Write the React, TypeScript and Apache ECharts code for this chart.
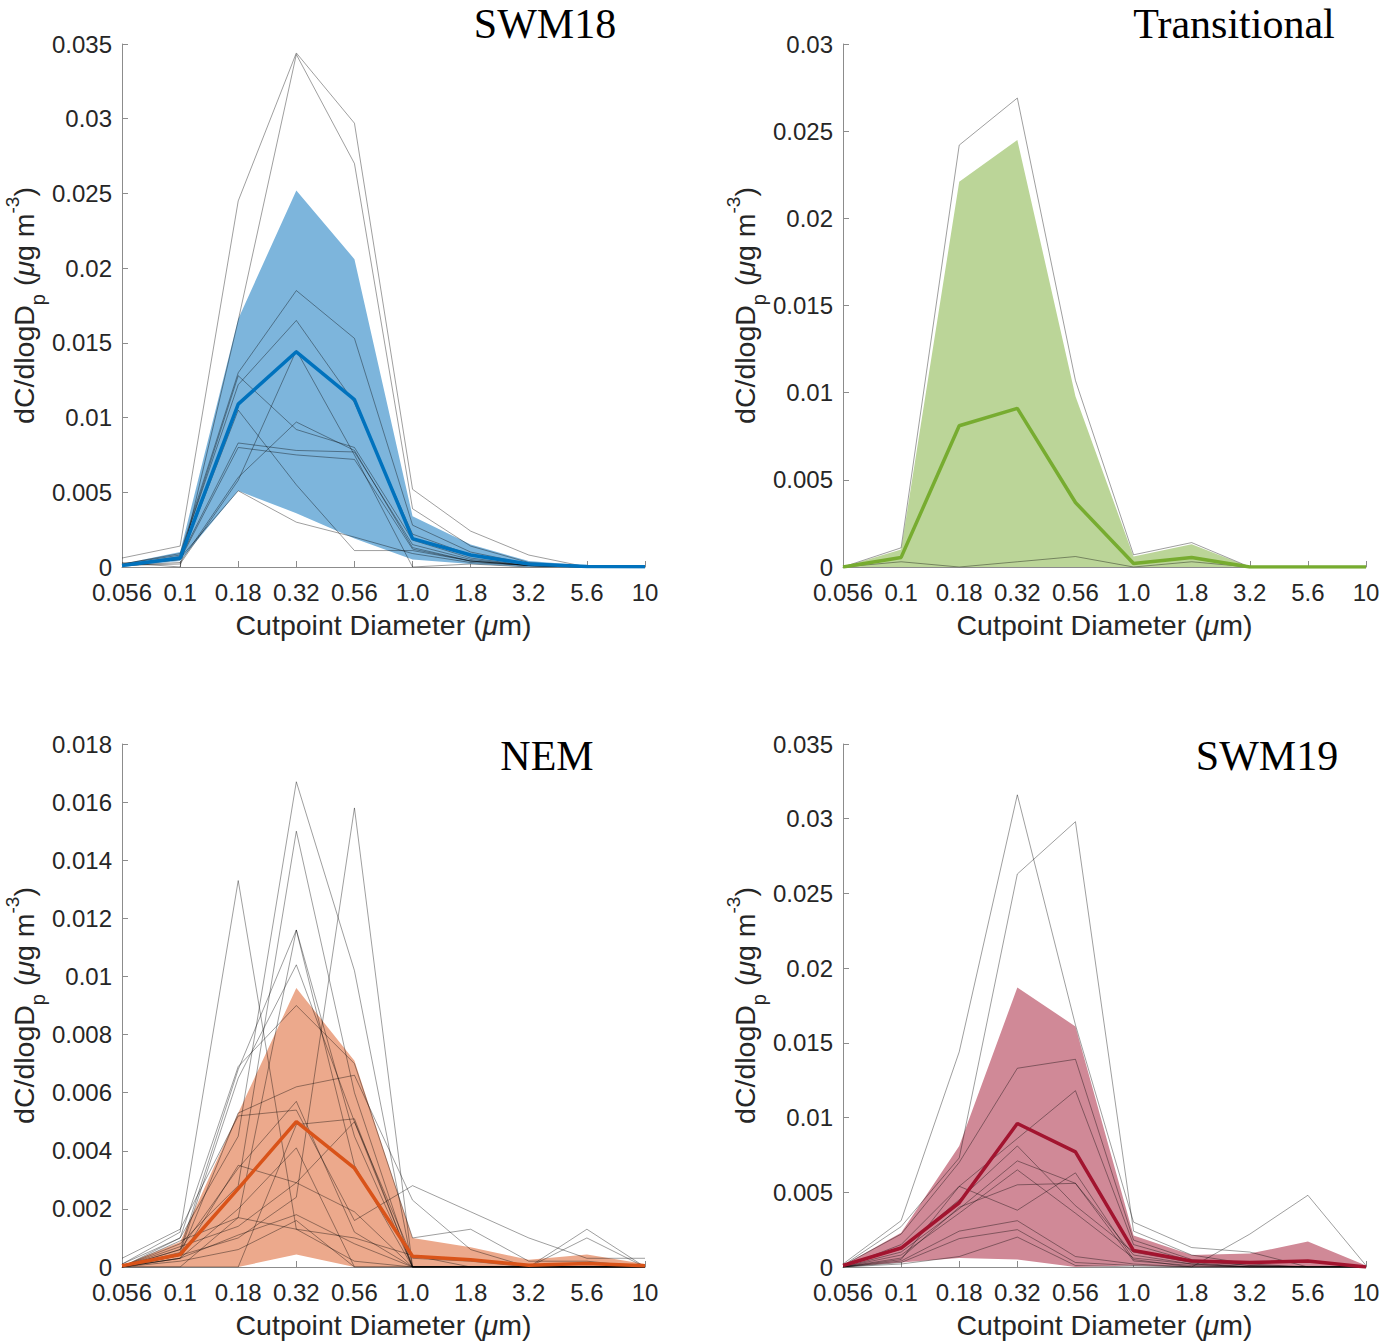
import React, { useEffect, useRef } from "react";
import * as echarts from "echarts";

// cutpoint diameters (µm), shared by all four panels
const diameters = ['0.056', '0.1', '0.18', '0.32', '0.56', '1.0', '1.8', '3.2', '5.6', '10'];

// SWM18
const swm18Mean = [0.0001, 0.0006, 0.0109, 0.0144, 0.0112, 0.0019, 0.0008, 0.0002, 0.00003, 0.00002];
const swm18Lower = [0, 0.0004, 0.0051, 0.0036, 0.0019, 0.0005, 0.0002, 0, 0, 0];
const swm18Upper = [0.0002, 0.001, 0.0166, 0.0252, 0.0206, 0.0034, 0.0015, 0.0004, 0.0001, 0.0001];
const swm18Samples = [
  [0.0006, 0.0014, 0.0245, 0.0344, 0.0297, 0.0052, 0.0024, 0.0008, 0, 0],
  [0.0003, 0, 0.0165, 0.0343, 0.027, 0.0039, 0.0014, 0.0003, 0, 0],
  [0.0002, 0.0009, 0.013, 0.0185, 0.0153, 0.0028, 0.001, 0.0002, 0, 0],
  [0.0002, 0.0008, 0.0122, 0.0165, 0.011, 0.0022, 0.0008, 0.0002, 0, 0],
  [0.0001, 0.0007, 0.0128, 0.0092, 0.008, 0.0018, 0.0006, 0.0001, 0, 0],
  [0.0001, 0.0005, 0.0105, 0.0055, 0.0011, 0.0011, 0.0004, 0.0001, 0, 0],
  [0.0001, 0.0006, 0.0083, 0.0078, 0.0077, 0.0015, 0.0005, 0.0001, 0, 0],
  [0.0001, 0.0005, 0.008, 0.0075, 0.0072, 0.0012, 0.0004, 0.0001, 0, 0],
  [0.0001, 0.0006, 0.0051, 0.003, 0.002, 0.0009, 0.0003, 0.0001, 0, 0],
  [0.0001, 0.0002, 0.0058, 0.0145, 0.0075, 0, 0.0002, 0, 0, 0],
  [0.0001, 0.0003, 0.006, 0.0097, 0.0078, 0.0013, 0.0004, 0.0001, 0, 0],
];

// Transitional
const transMean = [0, 0.00055, 0.0081, 0.0091, 0.0037, 0.0002, 0.00055, 0, 0, 0];
const transLower = [0, 0, 0, 0, 0, 0, 0, 0, 0, 0];
const transUpper = [0, 0.001, 0.0221, 0.0245, 0.0098, 0.0006, 0.0013, 0, 0, 0];
const transSamples = [
  [0, 0.0011, 0.0242, 0.0269, 0.0107, 0.0007, 0.0014, 0, 0, 0],
  [0, 0.0003, 0, 0.0003, 0.0006, 0, 0.0003, 0, 0, 0],
];

// NEM
const nemMean = [0.00004, 0.00043, 0.0027, 0.005, 0.0034, 0.00037, 0.00025, 0.00006, 0.00012, 0.00004];
const nemLower = [0, 0, 0, 0.00043, 0, 0, 0, 0, 0, 0];
const nemUpper = [0.00005, 0.00086, 0.0053, 0.0096, 0.0071, 0.001, 0.00068, 0.00025, 0.00043, 0.0001];
const nemSamples = [
  [0.0001, 0.001, 0.0045, 0.0167, 0.0102, 0, 0, 0, 0, 0],
  [0, 0.0008, 0.0028, 0.015, 0.006, 0, 0, 0, 0, 0],
  [0, 0.0004, 0.001, 0.0024, 0.0158, 0, 0, 0, 0, 0],
  [0.0001, 0.0012, 0.0133, 0.0013, 0.0002, 0, 0, 0, 0, 0],
  [0, 0.0006, 0.0068, 0.0116, 0.0045, 0, 0, 0, 0, 0],
  [0, 0.0009, 0.0017, 0.0116, 0.0035, 0, 0, 0, 0, 0],
  [0, 0.0005, 0.0065, 0.0104, 0.005, 0, 0, 0, 0, 0],
  [0, 0.001, 0.0069, 0.009, 0.007, 0.001, 0.0013, 0.0002, 0.0002, 0],
  [0.0003, 0.0013, 0.0052, 0.0054, 0.0016, 0.0028, 0.0019, 0.001, 0.0003, 0.0003],
  [0, 0.0004, 0.0053, 0.0062, 0.0066, 0.0023, 0.0006, 0, 0.0013, 0],
  [0, 0.0003, 0.0035, 0.0029, 0.005, 0.0003, 0.0002, 0, 0.001, 0],
  [0, 0.0006, 0.0034, 0.0057, 0.0012, 0, 0, 0, 0, 0],
  [0, 0, 0, 0.0049, 0.0051, 0, 0, 0, 0, 0],
  [0, 0.0003, 0.002, 0.0041, 0, 0, 0, 0, 0, 0],
  [0, 0.0007, 0.0014, 0.0029, 0.0019, 0, 0, 0, 0, 0],
  [0, 0.0003, 0.0011, 0.0018, 0.0008, 0, 0, 0, 0, 0],
  [0, 0.0002, 0.0006, 0.0016, 0, 0, 0, 0, 0, 0],
  [0, 0, 0.0017, 0.0013, 0.001, 0.0004, 0, 0, 0, 0],
];

// SWM19
const swm19Mean = [0.0001, 0.00127, 0.0043, 0.0096, 0.0077, 0.0011, 0.0004, 0.0003, 0.0004, 0];
const swm19Lower = [0, 0.0003, 0.0006, 0.0005, 0, 0.0001, 0, 0, 0, 0];
const swm19Upper = [0.0001, 0.0023, 0.0081, 0.0187, 0.0161, 0.0021, 0.0008, 0.0009, 0.0017, 0.0001];
const swm19Samples = [
  [0.0002, 0.0031, 0.0144, 0.0316, 0.0162, 0.003, 0.0013, 0.001, 0, 0],
  [0.0001, 0.0027, 0.0073, 0.0263, 0.0298, 0.0024, 0.0008, 0.0002, 0, 0],
  [0.0001, 0.0022, 0.007, 0.0133, 0.0139, 0.0018, 0.0005, 0.0001, 0, 0],
  [0, 0.0015, 0.0054, 0.0086, 0.0118, 0.0015, 0.0004, 0.0001, 0, 0],
  [0.0001, 0.0012, 0.0045, 0.0081, 0.0041, 0.001, 0.0003, 0, 0, 0],
  [0, 0.001, 0.0039, 0.0071, 0.0056, 0.0008, 0.0002, 0, 0, 0],
  [0, 0.0008, 0.0036, 0.0065, 0.0036, 0.0006, 0.0002, 0, 0, 0],
  [0, 0.0006, 0.004, 0.0055, 0.0056, 0.0004, 0.0001, 0, 0, 0],
  [0, 0.0005, 0.0054, 0.0038, 0.0063, 0.0005, 0, 0.0022, 0.0048, 0.0001],
  [0, 0.0004, 0.0024, 0.0031, 0.0007, 0.0002, 0, 0, 0, 0],
  [0, 0.0003, 0.0019, 0.0025, 0.0003, 0.0001, 0, 0, 0, 0],
  [0, 0.0002, 0.0007, 0.002, 0.0001, 0, 0, 0, 0, 0],
];

const panels = [
  { title: 'SWM18', max: 0.035, interval: 0.005, mean: swm18Mean, lower: swm18Lower, upper: swm18Upper, samples: swm18Samples,
    line: '#0072BD', fill: '#7DB5DC', left: 122, top: 44, titleX: 545, titleY: 24 },
  { title: 'Transitional', max: 0.03, interval: 0.005, mean: transMean, lower: transLower, upper: transUpper, samples: transSamples,
    line: '#77AC30', fill: '#BBD598', left: 843, top: 44, titleX: 1234, titleY: 24 },
  { title: 'NEM', max: 0.018, interval: 0.002, mean: nemMean, lower: nemLower, upper: nemUpper, samples: nemSamples,
    line: '#D95319', fill: '#ECA98C', left: 122, top: 744, titleX: 547, titleY: 756 },
  { title: 'SWM19', max: 0.035, interval: 0.005, mean: swm19Mean, lower: swm19Lower, upper: swm19Upper, samples: swm19Samples,
    line: '#A2142F', fill: '#D08997', left: 843, top: 744, titleX: 1267, titleY: 756 },
];

const SANS = '"Liberation Sans", Arial, Helvetica, sans-serif';
const SERIF = '"Liberation Serif", "Times New Roman", serif';
const TEXT = '#262626';
const AXIS = '#8c8c8c';

const nameRich = {
  sub: { fontSize: 20, height: 8, verticalAlign: 'bottom', color: TEXT, fontFamily: SANS },
  sup: { fontSize: 19, height: 12, verticalAlign: 'top', color: TEXT, fontFamily: SANS },
  mu: { fontSize: 28.5, fontStyle: 'italic', color: TEXT, fontFamily: SANS },
};

const App = () => {
  const chartContainer = useRef<HTMLDivElement>(null);

  useEffect(() => {
    if (!chartContainer.current) return;
    const chart = echarts.init(chartContainer.current, null, { renderer: 'svg' });

    const series: any[] = [];
    panels.forEach((p, i) => {
      // shaded band: invisible lower line + stacked difference filled
      series.push({
        type: 'line', xAxisIndex: i, yAxisIndex: i, stack: 'band' + i, silent: true,
        symbol: 'none', lineStyle: { opacity: 0 }, data: p.lower,
      });
      series.push({
        type: 'line', xAxisIndex: i, yAxisIndex: i, stack: 'band' + i, silent: true,
        symbol: 'none', lineStyle: { opacity: 0 }, areaStyle: { color: p.fill, opacity: 1 },
        data: p.upper.map((u, k) => u - p.lower[k]),
      });
      p.samples.forEach((s) => {
        series.push({
          type: 'line', xAxisIndex: i, yAxisIndex: i, silent: true, symbol: 'none',
          lineStyle: { color: 'rgba(0,0,0,0.38)', width: 1 }, data: s,
        });
      });
      series.push({
        type: 'line', xAxisIndex: i, yAxisIndex: i, silent: true, symbol: 'none',
        lineStyle: { color: p.line, width: 3.5 }, data: p.mean,
      });
    });

    const option: echarts.EChartsOption = {
      animation: false,
      backgroundColor: '#fff',
      grid: panels.map((p) => ({
        left: p.left, top: p.top, width: 523, height: 523,
        outerBoundsMode: 'none', containLabel: false,
      })) as any,
      xAxis: panels.map((p, i) => ({
        type: 'category',
        gridIndex: i,
        data: diameters,
        boundaryGap: false,
        axisLine: { show: true, lineStyle: { color: AXIS, width: 1 } },
        axisTick: { show: true, inside: true, length: 6, alignWithLabel: true, lineStyle: { color: AXIS } },
        axisLabel: { interval: 0, margin: 15, fontSize: 24, lineHeight: 20, color: TEXT, fontFamily: SANS },
        splitLine: { show: false },
        name: 'Cutpoint Diameter ({mu|μ}m)',
        nameLocation: 'middle',
        nameGap: 43,
        nameTextStyle: { fontSize: 28.5, lineHeight: 30, color: TEXT, fontFamily: SANS, rich: nameRich },
      })),
      yAxis: panels.map((p, i) => ({
        type: 'value',
        gridIndex: i,
        min: 0,
        max: p.max,
        interval: p.interval,
        axisLine: { show: true, lineStyle: { color: AXIS, width: 1 } },
        axisTick: { show: true, inside: true, length: 6, lineStyle: { color: AXIS } },
        axisLabel: { margin: 10, fontSize: 24, lineHeight: 20, color: TEXT, fontFamily: SANS },
        splitLine: { show: false },
        name: 'dC/dlogD{sub|p} ({mu|μ}g m{sup|-3})',
        nameLocation: 'middle',
        nameGap: 79,
        nameTextStyle: { fontSize: 28.5, lineHeight: 36, color: TEXT, fontFamily: SANS, rich: nameRich },
      })),
      graphic: panels.map((p) => ({
        type: 'text',
        x: p.titleX,
        y: p.titleY,
        style: {
          text: p.title,
          font: '42px ' + SERIF,
          lineHeight: 32,
          fill: '#000',
          align: 'center',
          verticalAlign: 'middle',
        },
      })),
      series,
    };

    chart.setOption(option);

    return () => {
      chart.dispose();
    };
  }, []);

  return (
    <div
      ref={chartContainer}
      style={{ position: 'absolute', left: 0, top: 0, width: '1379px', height: '1341px', background: '#fff' }}
    />
  );
};

export default App;
